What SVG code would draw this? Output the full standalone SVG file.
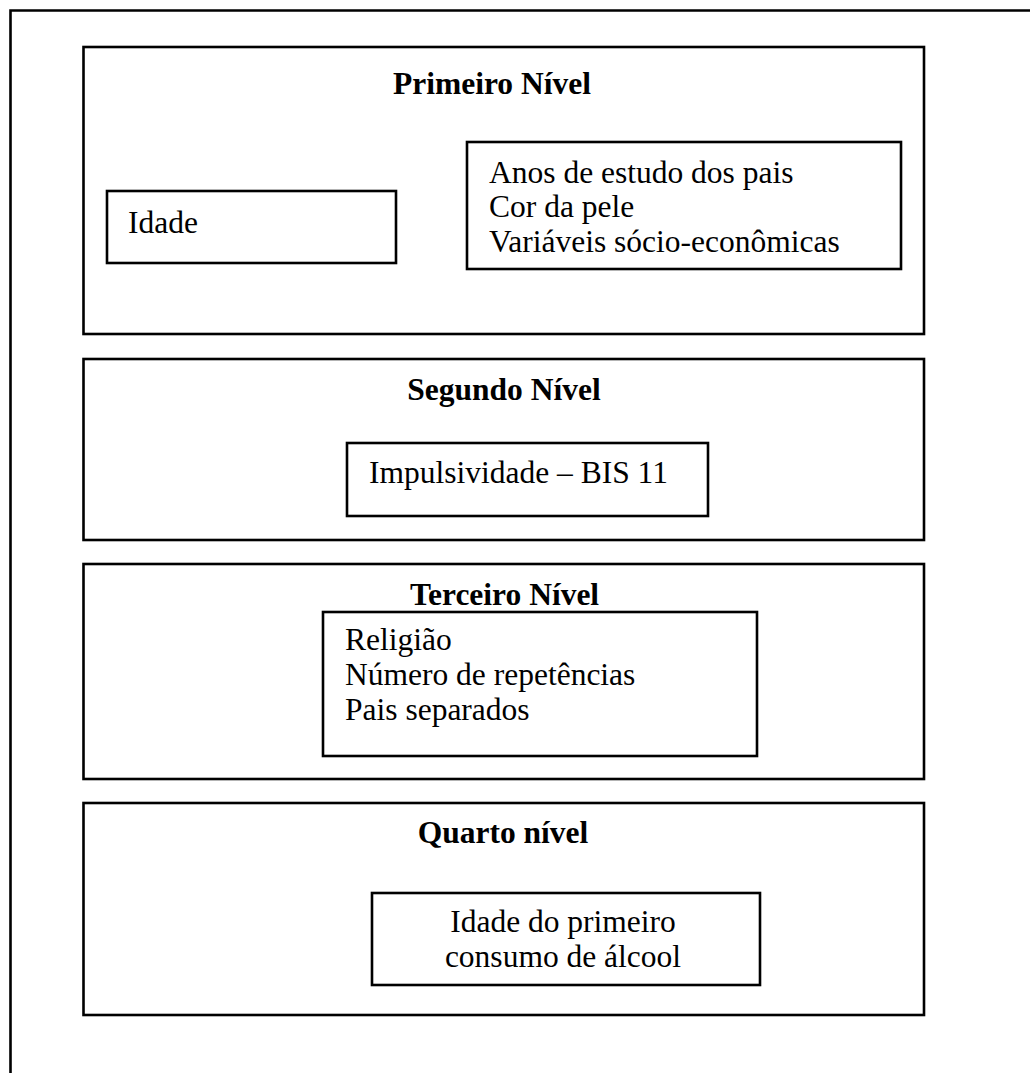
<svg xmlns="http://www.w3.org/2000/svg" width="1030" height="1073" viewBox="0 0 1030 1073">
<style>
.box{fill:none;stroke:#000;stroke-width:2.6}
.t{font-family:"Liberation Serif","Times New Roman",serif;font-size:31.5px;fill:#000}
.h{font-family:"Liberation Serif","Times New Roman",serif;font-size:31.5px;font-weight:bold;fill:#000}
</style>
<rect width="1030" height="1073" fill="#fff"/>
<g id="frame">
<polyline points="10.5,1073 10.5,10.5 1030,10.5" class="box"/>
</g>
<g id="level1">
<rect x="83.5" y="47" width="840.5" height="287" class="box"/>
<text x="492" y="94" text-anchor="middle" class="h">Primeiro Nível</text>
</g>
<g id="idade">
<rect x="107" y="191" width="289" height="72" class="box"/>
<text x="128" y="233" class="t">Idade</text>
</g>
<g id="socio">
<rect x="467" y="142" width="434" height="127" class="box"/>
<text class="t"><tspan x="489" y="183">Anos de estudo dos pais</tspan><tspan x="489" y="217">Cor da pele</tspan><tspan x="489" y="252">Variáveis sócio-econômicas</tspan></text>
</g>
<g id="level2">
<rect x="83.5" y="359" width="840.5" height="181" class="box"/>
<text x="504" y="400" text-anchor="middle" class="h">Segundo Nível</text>
</g>
<g id="impulsividade">
<rect x="347" y="443" width="361" height="73" class="box"/>
<text x="369" y="483" class="t">Impulsividade – BIS 11</text>
</g>
<g id="level3">
<rect x="83.5" y="564" width="840.5" height="215" class="box"/>
<text x="504.5" y="605" text-anchor="middle" class="h">Terceiro Nível</text>
</g>
<g id="terceiro-vars">
<rect x="323" y="612" width="434" height="144" class="box"/>
<text class="t"><tspan x="345" y="650">Religião</tspan><tspan x="345" y="685">Número de repetências</tspan><tspan x="345" y="720">Pais separados</tspan></text>
</g>
<g id="level4">
<rect x="83.5" y="803" width="840.5" height="212" class="box"/>
<text x="503" y="843" text-anchor="middle" class="h">Quarto nível</text>
</g>
<g id="alcool">
<rect x="372" y="893" width="388" height="92" class="box"/>
<text text-anchor="middle" class="t"><tspan x="563" y="932">Idade do primeiro</tspan><tspan x="563" y="967">consumo de álcool</tspan></text>
</g>
<g id="connectors"></g>
</svg>
